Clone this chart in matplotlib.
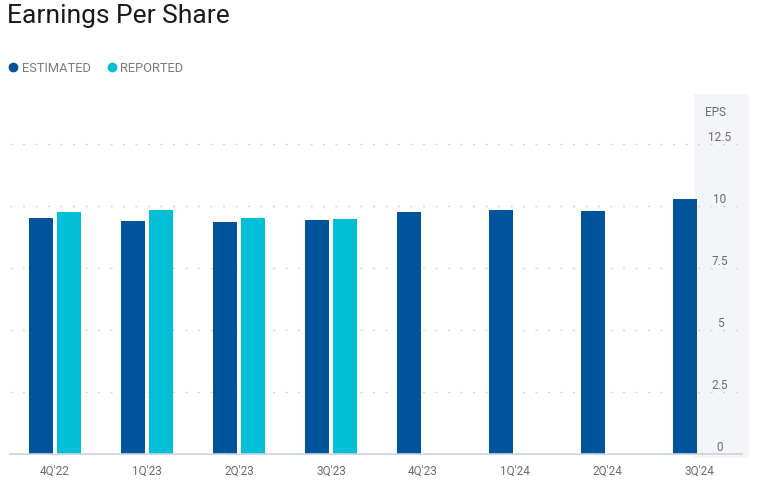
import matplotlib.pyplot as plt
import numpy as np
from matplotlib.patches import Rectangle
from matplotlib.lines import Line2D

# data
quarters = ["4Q'22", "1Q'23", "2Q'23", "3Q'23", "4Q'23", "1Q'24", "2Q'24", "3Q'24"]
estimated = [9.53, 9.41, 9.35, 9.43, 9.77, 9.85, 9.81, 10.29]
reported = [9.77, 9.85, 9.53, 9.47]
yticks = [0, 2.5, 5, 7.5, 10, 12.5]
ytick_labels = ['0', '2.5', '5', '7.5', '10', '12.5']

est_color = '#01539b'
rep_color = '#00bfd6'
text_gray = '#6b6b6b'

plt.rcParams['font.family'] = ['Roboto', 'DejaVu Sans']

W, H = 758, 481
fig = plt.figure(figsize=(W / 100, H / 100), dpi=100)

def px(x, y):
    return x / W, 1 - y / H

# axes: x 10..748 px, y 95..455 px
l, b = px(10, 455)
ax = fig.add_axes([l, b, 738 / W, 360 / H])
ax.patch.set_alpha(0)

# y-axis panel on the right
fig.add_artist(Rectangle(px(694, 459), 55 / W, 364 / H, transform=fig.transFigure,
                         facecolor='#f4f5f9', edgecolor='none', zorder=-1))

x = np.arange(len(quarters))
w = 24 / 92
off = 14 / 92
ax.bar(x - off, estimated, width=w, color=est_color, zorder=3)
ax.bar(x[:len(reported)] + off, reported, width=w, color=rep_color, zorder=3)

ax.set_xlim(-45 / 92, 7 + 49 / 92)
ax.set_ylim(0, 360 / 24.8)

# dotted gridlines
for v in yticks[1:]:
    ax.axhline(v, xmin=0, xmax=1, color='#d4d4d4', lw=1.0,
               linestyle=(0, (1.5, 7.5)), zorder=1)
# baseline
ax.plot([-46 / 92, 7 + 44 / 92], [0, 0], color='#c9d3e1', lw=1.2, zorder=4,
        clip_on=False, solid_capstyle='butt')

for s in ax.spines.values():
    s.set_visible(False)
ax.set_yticks([])
ax.set_xticks(x)
ax.set_xticklabels(quarters, color=text_gray, fontsize=8.5)
ax.tick_params(axis='x', length=0, pad=7)

# y labels in the panel
trans = ax.get_yaxis_transform()
xl = (720 - 10) / 738
for v, t in zip(yticks, ytick_labels):
    ax.text(xl, v + 7 / 24.8, t, transform=trans, ha='center', va='center',
            color=text_gray, fontsize=8.5)
fig.text(*px(715, 112), 'EPS', ha='center', va='center', color=text_gray, fontsize=8.5)

# title and legend
fig.text(*px(7, 16), 'Earnings Per Share', ha='left', va='center',
         fontsize=19, color='#1a1a1a')
for (mx, my), c in [((13, 68), est_color), ((112, 68), rep_color)]:
    fx, fy = px(mx, my)
    fig.add_artist(Line2D([fx], [fy], marker='o', markersize=6, color=c,
                          transform=fig.transFigure))
fig.text(*px(22, 68), 'ESTIMATED', ha='left', va='center', fontsize=9.3, color='#7a7a7a')
fig.text(*px(120, 68), 'REPORTED', ha='left', va='center', fontsize=9.3, color='#7a7a7a')

plt.savefig('out.png', dpi=100)
